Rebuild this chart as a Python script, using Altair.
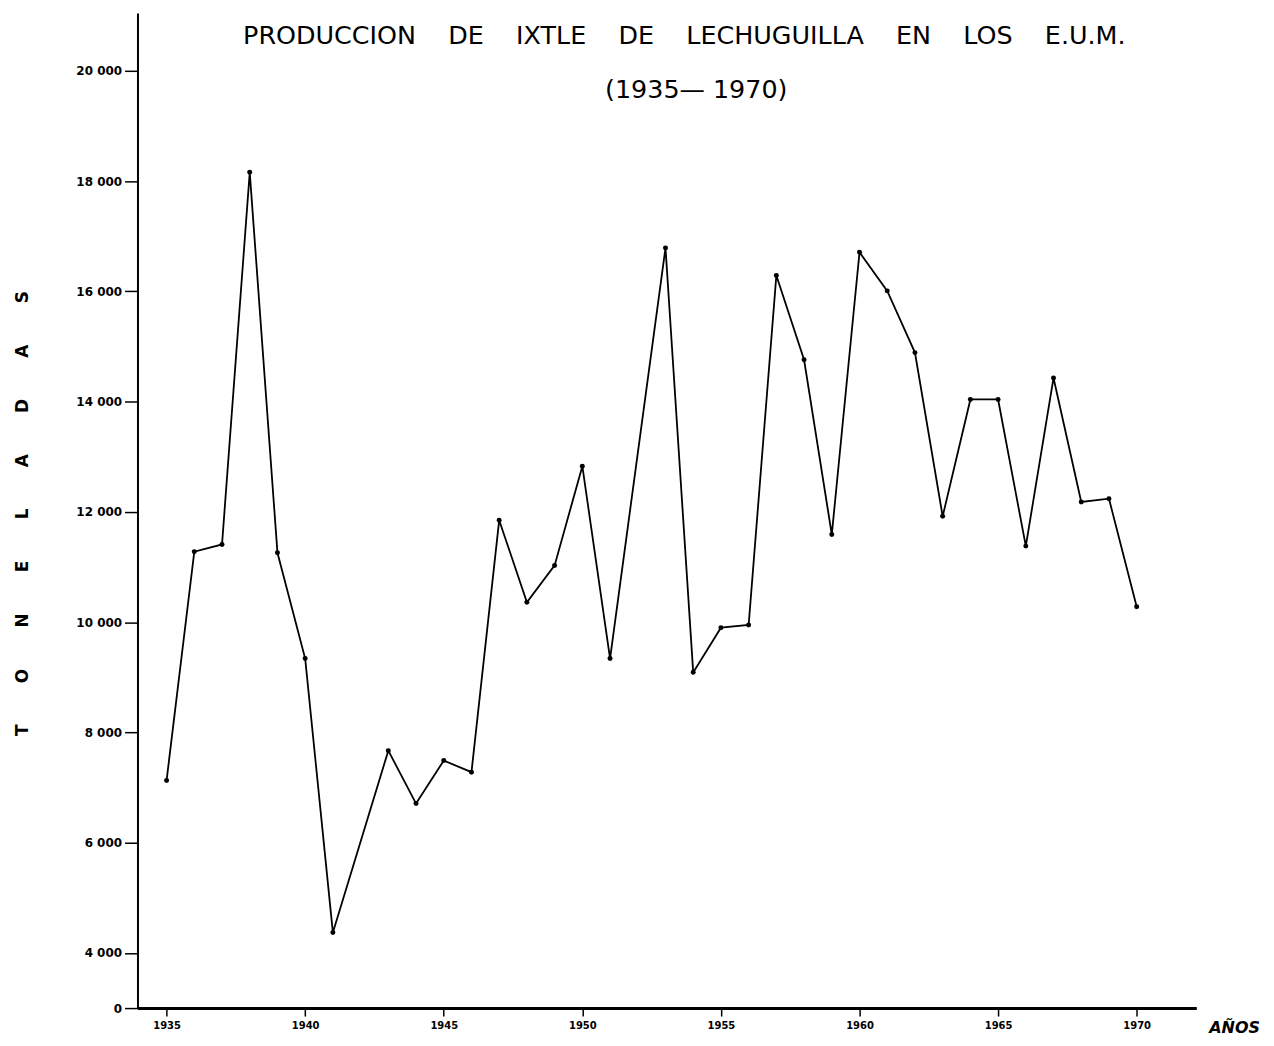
import altair as alt
import pandas as pd

# ---- data ----
years = [1935, 1936, 1937, 1938, 1939, 1940, 1941, 1943, 1944, 1945, 1946, 1947,
         1948, 1949, 1950, 1951, 1953, 1954, 1955, 1956, 1957, 1958, 1959, 1960,
         1961, 1962, 1963, 1964, 1965, 1966, 1967, 1968, 1969, 1970]
tons = [7130, 11280, 11410, 18160, 11260, 9340, 4370, 7670, 6710, 7490, 7280, 11850,
        10360, 11030, 12830, 9340, 16790, 9090, 9900, 9950, 16290, 14760, 11590, 16710,
        16010, 14890, 11920, 14040, 14040, 11380, 14430, 12180, 12240, 10280]

x_ticks = [1935, 1940, 1945, 1950, 1955, 1960, 1965, 1970]
y_ticks = [3000, 4000, 6000, 8000, 10000, 12000, 14000, 16000, 18000, 20000]

NB = "\u00a0"
title_words = ["PRODUCCION", "DE", "IXTLE", "DE", "LECHUGUILLA", "EN", "LOS", "E.U.M."]
title_text = (NB * 4).join(title_words)
subtitle_text = "(1935\u2014 1970)"
y_title = (NB * 7).join(list("TONELADAS"))
x_title = "AÑOS"

FONT = "DejaVu Sans"

df = pd.DataFrame({"year": years, "tons": tons})

x_enc = alt.X(
    "year:Q",
    scale=alt.Scale(domain=[1933.95, 1972.15], nice=False, zero=False),
    axis=alt.Axis(
        values=x_ticks, format="d", grid=False, tickSize=8, tickWidth=1.5,
        tickColor="black", domainColor="black", domainWidth=3,
        labelFont=FONT, labelFontSize=10, labelFontWeight="bold", labelColor="black",
        labelPadding=5, labelFlush=False, labelOverlap=False,
        title=x_title, titleFont=FONT, titleFontSize=16, titleFontStyle="italic",
        titleFontWeight="bold", titleColor="black", titleX=1101, titleY=20,
        titleAlign="center", titleBaseline="middle",
    ),
)
y_enc = alt.Y(
    "tons:Q",
    scale=alt.Scale(domain=[3000, 21050], nice=False, zero=False),
    axis=alt.Axis(
        values=y_ticks,
        labelExpr="datum.value == 3000 ? '0' : replace(format(datum.value, ','), ',', ' ')",
        grid=False, tickSize=13, tickWidth=1.5, tickColor="black",
        domainColor="black", domainWidth=2,
        labelFont=FONT, labelFontSize=12, labelFontWeight="bold", labelColor="black",
        labelPadding=3, labelFlush=False, labelOverlap=False,
        title=y_title, titleFont=FONT, titleFontSize=17, titleFontWeight="bold",
        titleColor="black", titleAngle=270, titleX=-115, titleY=502,
        titleAlign="center", titleBaseline="middle",
    ),
)

base = alt.Chart(df)
line = base.mark_line(color="black", strokeWidth=1.8).encode(x=x_enc, y=y_enc)
pts = base.mark_circle(color="black", size=25, opacity=1).encode(x="year:Q", y="tons:Q")

title_mark = alt.Chart(pd.DataFrame({"t": [title_text]})).mark_text(
    font=FONT, fontSize=25.5, align="center", baseline="middle", color="black"
).encode(text="t:N", x=alt.value(549), y=alt.value(23))

subtitle_mark = alt.Chart(pd.DataFrame({"t": [subtitle_text]})).mark_text(
    font=FONT, fontSize=25.5, align="center", baseline="middle", color="black"
).encode(text="t:N", x=alt.value(561), y=alt.value(77))

chart = alt.layer(line, pts, title_mark, subtitle_mark).properties(
    width=1063,
    height=999,
    padding={"left": 130, "top": 3, "right": 70, "bottom": 33},
    autosize=alt.AutoSizeParams(type="none"),
    background="white",
).configure_view(stroke=None)

chart.save("out.html", embed_options={"renderer": "svg", "actions": False})
